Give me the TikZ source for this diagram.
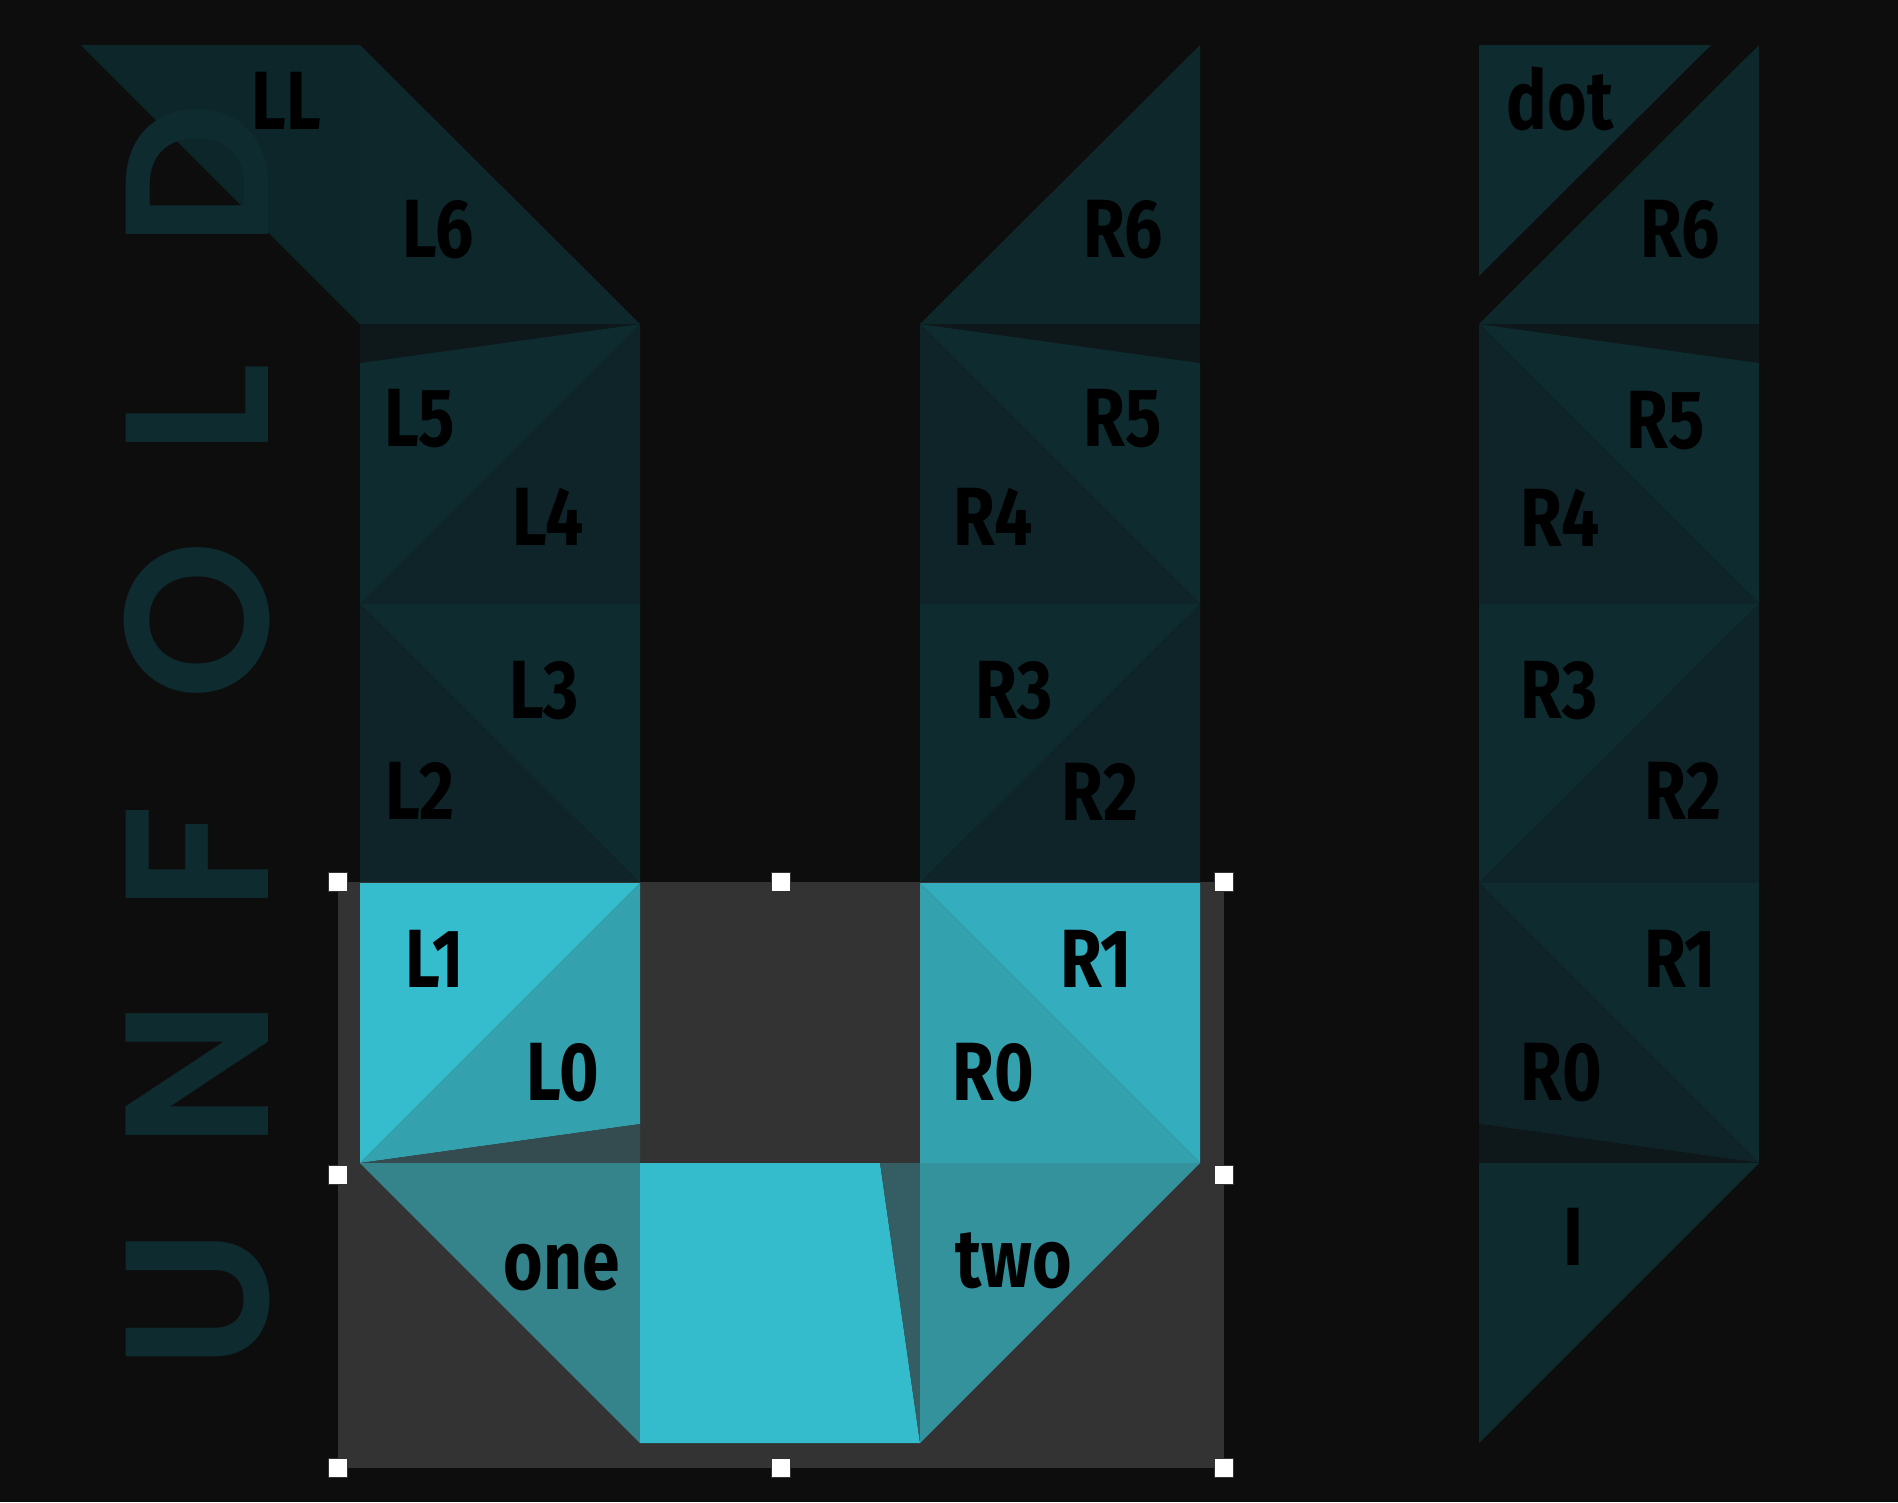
\documentclass[tikz,border=0pt]{standalone}
\usepackage{fontspec}
\newfontfamily\labfont{Fira Sans}
\newfontfamily\bigfont{Poppins SemiBold}
\definecolor{bgc}{HTML}{0D0D0D}
\definecolor{tealL}{HTML}{0E2B30}
\definecolor{tealM}{HTML}{0E272B}
\definecolor{tealD}{HTML}{0E2428}
\definecolor{stripc}{HTML}{0E1719}
\definecolor{selg}{HTML}{333333}
\definecolor{cyA}{HTML}{35BDCD}
\definecolor{cyB}{HTML}{33A1AE}
\definecolor{cyC}{HTML}{344B50}
\definecolor{cyD}{HTML}{34AEBE}
\definecolor{cyE}{HTML}{35838B}
\definecolor{cyF}{HTML}{34BCCD}
\definecolor{cyG}{HTML}{355D64}
\definecolor{cyH}{HTML}{33929C}
\tikzset{
  lab/.style={font=\labfont\bfseries\fontsize{23.5}{24}\selectfont, text=black, inner sep=0pt, xscale=0.82},
  handle/.style={fill=white, draw=selg, line width=0.4pt, minimum size=0.19cm, inner sep=0pt, shape=rectangle},
}
\begin{document}
\begin{tikzpicture}[x=0.01cm, y=-0.01cm]
\fill[bgc] (0,0) rectangle (1898,1502);
\useasboundingbox (0,0) rectangle (1898,1502);

% UNFOLD
\node[rotate=90, anchor=base west, inner sep=0pt, text=tealL,
      font=\bigfont\fontsize{58}{58}\selectfont] (unfold) at (268,1300)
  {\makebox[0pt]{U}\hspace{2.245cm}\makebox[0pt]{N}\hspace{2.165cm}\makebox[0pt]{F}\hspace{2.37cm}\makebox[0pt]{O}\hspace{2.11cm}\makebox[0pt]{L}\hspace{2.34cm}\makebox[0pt]{D}};

% left column
\fill[tealL, opacity=0.85] (81,45) -- (360,45) -- (360,324) -- cycle;
\fill[tealM] (360,45) -- (640,324) -- (360,324) -- cycle;
\fill[stripc] (360,324) -- (640,324) -- (360,363) -- cycle;
\fill[tealL] (360,363) -- (640,324) -- (360,604) -- cycle;
\fill[tealD] (640,324) -- (640,604) -- (360,604) -- cycle;
\fill[tealL] (360,604) -- (640,604) -- (640,883) -- cycle;
\fill[tealD] (360,604) -- (360,883) -- (640,883) -- cycle;

% right column
\fill[tealM] (920,324) -- (1200,45) -- (1200,324) -- cycle;
\fill[stripc] (920,324) -- (1200,324) -- (1200,363) -- cycle;
\fill[tealL] (920,324) -- (1200,363) -- (1200,604) -- cycle;
\fill[tealD] (920,324) -- (920,604) -- (1200,604) -- cycle;
\fill[tealL] (920,604) -- (1200,604) -- (920,883) -- cycle;
\fill[tealD] (1200,604) -- (1200,883) -- (920,883) -- cycle;

% far right column
\fill[tealL] (1479,45) -- (1711,45) -- (1479,276) -- cycle;
\fill[tealM] (1479,324) -- (1759,45) -- (1759,324) -- cycle;
\fill[stripc] (1479,324) -- (1759,324) -- (1759,363) -- cycle;
\fill[tealL] (1479,324) -- (1759,363) -- (1759,604) -- cycle;
\fill[tealD] (1479,324) -- (1479,604) -- (1759,604) -- cycle;
\fill[tealL] (1479,604) -- (1759,604) -- (1479,883) -- cycle;
\fill[tealD] (1759,604) -- (1759,883) -- (1479,883) -- cycle;
\fill[tealL] (1479,883) -- (1759,883) -- (1759,1163) -- cycle;
\fill[tealD] (1479,883) -- (1759,1163) -- (1479,1124) -- cycle;
\fill[stripc] (1479,1124) -- (1759,1163) -- (1479,1163) -- cycle;
\fill[tealL] (1479,1163) -- (1759,1163) -- (1479,1443) -- cycle;

% selection
\fill[selg] (338,882) rectangle (1224,1468);
\fill[cyA] (360,883) -- (640,883) -- (360,1163) -- cycle;
\fill[cyB] (640,883) -- (640,1124) -- (360,1163) -- cycle;
\fill[cyC] (360,1163) -- (640,1124) -- (640,1163) -- cycle;
\fill[cyD] (920,883) -- (1200,883) -- (1200,1163) -- cycle;
\fill[cyB] (920,883) -- (920,1163) -- (1200,1163) -- cycle;
\fill[cyE] (360,1163) -- (640,1163) -- (640,1443) -- cycle;
\fill[cyF] (640,1163) -- (880,1163) -- (920,1443) -- (640,1443) -- cycle;
\fill[cyG] (880,1163) -- (920,1163) -- (920,1443) -- cycle;
\fill[cyH] (920,1163) -- (1200,1163) -- (920,1443) -- cycle;

% handles
\node[handle] (h1) at (338,882) {};
\node[handle] (h2) at (781,882) {};
\node[handle] (h3) at (1224,882) {};
\node[handle] (h4) at (338,1175) {};
\node[handle] (h5) at (1224,1175) {};
\node[handle] (h6) at (338,1468) {};
\node[handle] (h7) at (781,1468) {};
\node[handle] (h8) at (1224,1468) {};

% labels
\node[lab] (tLL) at (286,101) {LL};
\node[lab] (tL6) at (438,230) {L6};
\node[lab] (tL5) at (420,419) {L5};
\node[lab] (tL4) at (548,517) {L4};
\node[lab] (tL3) at (544,691) {L3};
\node[lab] (tL2) at (420,791) {L2};
\node[lab] (tL1) at (435,959) {L1};
\node[lab] (tL0) at (563,1073) {L0};
\node[lab] (tone) at (562,1268) {one};
\node[lab] (ttwo) at (1014,1261) {two};
\node[lab] (tR0) at (993,1073) {R0};
\node[lab] (tR1) at (1096,959) {R1};
\node[lab] (tR6) at (1123,230) {R6};
\node[lab] (tR5) at (1123,419) {R5};
\node[lab] (tR4) at (993,517) {R4};
\node[lab] (tR3) at (1014,691) {R3};
\node[lab] (tR2) at (1100,792) {R2};
\node[lab] (tdot) at (1560,99) {dot};
\node[lab] (fR6) at (1680,230) {R6};
\node[lab] (fR5) at (1666,421) {R5};
\node[lab] (fR4) at (1560,518) {R4};
\node[lab] (fR3) at (1559,691) {R3};
\node[lab] (fR2) at (1683,791) {R2};
\node[lab] (fR1) at (1680,959) {R1};
\node[lab] (fR0) at (1561,1073) {R0};
\node[lab] (fI) at (1573,1237) {I};
\end{tikzpicture}
\end{document}
